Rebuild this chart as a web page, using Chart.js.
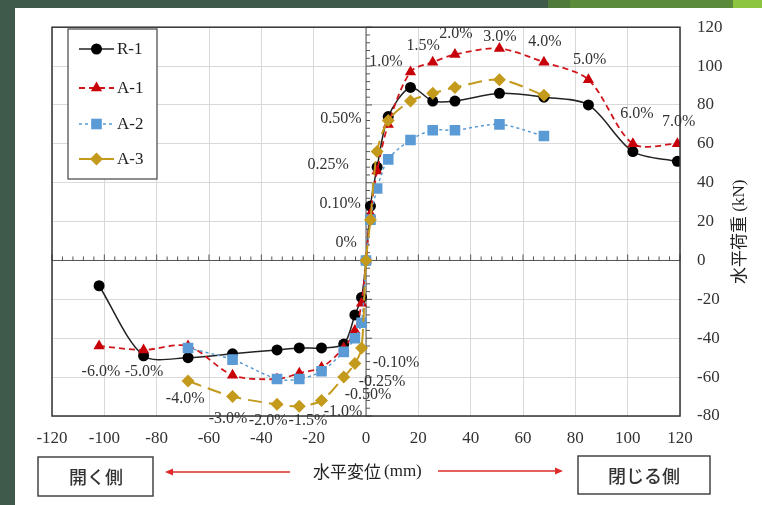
<!DOCTYPE html>
<html>
<head>
<meta charset="utf-8">
<script src="https://cdn.jsdelivr.net/npm/chart.js@4.4.0/dist/chart.umd.min.js"></script>
<style>
html, body { margin: 0; padding: 0; background: #3f5a4a; }
canvas { display: block; }
</style>
</head>
<body>
<canvas id="canvas" width="762" height="505"></canvas>
<script>
// displacement (mm) and horizontal load (kN) per specimen
var r1X = [-102, -85, -68, -51, -34, -25.5, -17, -8.5, -4.25, -1.7, 0, 1.7, 4.25, 8.5, 17, 25.5, 34, 51, 68, 85, 102, 119];
var r1Y = [-13, -49, -50, -48, -46, -45, -45, -43, -28, -19, 0, 28, 48, 74, 89, 82, 82, 86, 84, 80, 56, 51];

var a1X = [-102, -85, -68, -51, -34, -25.5, -17, -8.5, -4.25, -1.7, 0, 1.7, 4.25, 8.5, 17, 25.5, 34, 51, 68, 85, 102, 119];
var a1Y = [-44, -46, -44, -59, -61, -58, -55, -45, -36, -22, 0, 24, 46, 70, 97, 102, 106, 109, 102, 93, 60, 60];

var a2X = [-68, -51, -34, -25.5, -17, -8.5, -4.25, -1.7, 0, 1.7, 4.25, 8.5, 17, 25.5, 34, 51, 68];
var a2Y = [-45, -51, -61, -61, -57, -47, -40, -32, 0, 21, 37, 52, 62, 67, 67, 70, 64];

var a3X = [-68, -51, -34, -25.5, -17, -8.5, -4.25, -1.7, 0, 1.7, 4.25, 8.5, 17, 25.5, 34, 51, 68];
var a3Y = [-62, -70, -74, -75, -72, -60, -53, -45, 0, 21, 56, 72, 82, 86, 89, 93, 85];

// drift angle notes: text, displacement, load
var driftText = ["0.50%", "0.25%", "0.10%", "0%", "1.0%", "1.5%", "2.0%", "3.0%", "4.0%", "5.0%", "6.0%", "7.0%",
  "-6.0%", "-5.0%", "-4.0%", "-3.0%", "-2.0%", "-1.5%", "-1.0%", "-0.50%", "-0.25%", "-0.10%"];
var driftX = [-9.6, -14.5, -9.9, -7.6, 7.6, 21.8, 34.4, 51.2, 68.4, 85.5, 103.5, 119.5,
  -101.3, -84.8, -69.1, -52.7, -37.4, -22.2, -8.8, 0.8, 6.1, 11.5];
var driftY = [72.7, 49.1, 29.1, 9, 102.3, 110.5, 116.5, 115.3, 112.3, 103.3, 75.7, 71.2,
  -57.4, -57.4, -71.4, -81.5, -82.5, -82.5, -78, -69.2, -62.2, -52.6];

var xTicks = [-120, -100, -80, -60, -40, -20, 0, 20, 40, 60, 80, 100, 120];
var yTicks = [-80, -60, -40, -20, 0, 20, 40, 60, 80, 100, 120];

var serif = "'Liberation Serif', 'DejaVu Serif', serif";
var jp = "'Noto Sans CJK JP', sans-serif";

function pts(xs, ys) {
    return xs.map(function (x, i) { return { x: x, y: ys[i] }; });
}

function marker(ctx, style, x, y, r, color) {
    ctx.save();
    ctx.fillStyle = color;
    ctx.setLineDash([]);
    ctx.beginPath();
    if (style == 'circle') {
        ctx.arc(x, y, r, 0, Math.PI * 2);
    } else if (style == 'triangle') {
        ctx.moveTo(x, y - r);
        ctx.lineTo(x + r * 0.866, y + r * 0.5);
        ctx.lineTo(x - r * 0.866, y + r * 0.5);
        ctx.closePath();
    } else if (style == 'rect') {
        var s = r * Math.SQRT1_2;
        ctx.rect(x - s, y - s, 2 * s, 2 * s);
    } else {
        ctx.moveTo(x, y - r);
        ctx.lineTo(x + r, y);
        ctx.lineTo(x, y + r);
        ctx.lineTo(x - r, y);
        ctx.closePath();
    }
    ctx.fill();
    ctx.restore();
}

var decor = {
    id: 'decor',
    beforeDraw: function (chart) {
        var ctx = chart.ctx;
        ctx.save();
        ctx.fillStyle = '#3f5a4a';
        ctx.fillRect(0, 0, 762, 505);
        ctx.fillStyle = '#4f7a3c';
        ctx.fillRect(548, 0, 22, 8);
        ctx.fillStyle = '#5b8a3a';
        ctx.fillRect(570, 0, 163, 8);
        ctx.fillStyle = '#8cc540';
        ctx.fillRect(733, 0, 29, 8);
        ctx.fillStyle = '#ffffff';
        ctx.fillRect(15, 8, 747, 497);
        ctx.restore();
    },
    beforeDatasetsDraw: function (chart) {
        var ctx = chart.ctx, xs = chart.scales.x, ys = chart.scales.y;
        var x0 = xs.getPixelForValue(0), y0 = ys.getPixelForValue(0);
        ctx.save();
        ctx.strokeStyle = '#555';
        ctx.lineWidth = 1;
        ctx.beginPath();
        ctx.moveTo(xs.left, y0); ctx.lineTo(xs.right, y0);
        ctx.moveTo(x0, ys.top); ctx.lineTo(x0, ys.bottom);
        for (var v = -120; v <= 120; v += 4) {
            var px = xs.getPixelForValue(v);
            ctx.moveTo(px, y0); ctx.lineTo(px, y0 - (v % 20 == 0 ? 6 : 4));
        }
        for (var w = -80; w <= 120; w += 4) {
            var py = ys.getPixelForValue(w);
            ctx.moveTo(x0, py); ctx.lineTo(x0 + (w % 20 == 0 ? 6 : 4), py);
        }
        ctx.stroke();
        ctx.restore();
    },
    afterDraw: function (chart) {
        var ctx = chart.ctx, xs = chart.scales.x, ys = chart.scales.y, a = chart.chartArea;
        ctx.save();
        // plot frame
        ctx.strokeStyle = '#333';
        ctx.lineWidth = 1.5;
        ctx.strokeRect(a.left, a.top, a.right - a.left, a.bottom - a.top);

        // legend
        ctx.fillStyle = '#fff';
        ctx.fillRect(68, 29, 89, 150);
        ctx.strokeStyle = '#444';
        ctx.lineWidth = 1.2;
        ctx.strokeRect(68, 29, 89, 150);
        var rows = [49, 88, 124, 159];
        chart.data.datasets.forEach(function (ds, i) {
            var y = rows[i];
            ctx.strokeStyle = ds.borderColor;
            ctx.lineWidth = ds.borderWidth;
            ctx.setLineDash(ds.borderDash || []);
            ctx.beginPath();
            ctx.moveTo(79, y); ctx.lineTo(114, y);
            ctx.stroke();
            ctx.setLineDash([]);
            marker(ctx, ds.pointStyle, 96.5, y, ds.pointRadius, ds.pointBackgroundColor);
            ctx.fillStyle = '#222';
            ctx.font = '17px ' + serif;
            ctx.textAlign = 'left';
            ctx.textBaseline = 'middle';
            ctx.fillText(ds.label, 117, y + 1);
        });

        // drift angle notes
        ctx.fillStyle = '#333';
        ctx.font = '16px ' + serif;
        ctx.textAlign = 'center';
        ctx.textBaseline = 'middle';
        driftText.forEach(function (t, i) {
            ctx.fillText(t, xs.getPixelForValue(driftX[i]), ys.getPixelForValue(driftY[i]));
        });

        // right axis title
        ctx.save();
        ctx.translate(739, 224);
        ctx.rotate(-Math.PI / 2);
        ctx.fillStyle = '#222';
        ctx.textAlign = 'right';
        ctx.font = '17px ' + jp;
        ctx.fillText('水平荷重', 8, 0);
        ctx.textAlign = 'left';
        ctx.font = '17px ' + serif;
        ctx.fillText(' (kN)', 8, 1);
        ctx.restore();

        // x axis title
        ctx.fillStyle = '#222';
        ctx.textAlign = 'right';
        ctx.font = '17px ' + jp;
        ctx.fillText('水平変位', 381, 472);
        ctx.textAlign = 'left';
        ctx.font = '17px ' + serif;
        ctx.fillText('(mm)', 384, 472);

        // arrows
        ctx.strokeStyle = '#e02b2b';
        ctx.fillStyle = '#e02b2b';
        ctx.lineWidth = 1.5;
        ctx.beginPath();
        ctx.moveTo(290, 472); ctx.lineTo(170, 472);
        ctx.moveTo(438, 471); ctx.lineTo(557, 471);
        ctx.stroke();
        ctx.beginPath();
        ctx.moveTo(165, 472); ctx.lineTo(173, 468.5); ctx.lineTo(173, 475.5); ctx.closePath();
        ctx.moveTo(563, 471); ctx.lineTo(555, 467.5); ctx.lineTo(555, 474.5); ctx.closePath();
        ctx.fill();

        // side boxes
        ctx.strokeStyle = '#444';
        ctx.lineWidth = 1.5;
        ctx.strokeRect(38, 457, 115, 39);
        ctx.strokeRect(578, 456, 132, 38);
        ctx.fillStyle = '#333';
        ctx.textAlign = 'center';
        ctx.font = '500 18px ' + jp;
        ctx.fillText('開く側', 96, 477);
        ctx.fillText('閉じる側', 644, 476);
        ctx.restore();
    }
};

var config = {
    type: 'scatter',
    data: {
        datasets: [
            {
                label: 'R-1', data: pts(r1X, r1Y), showLine: true, tension: 0.3, order: 4,
                borderColor: '#222', borderWidth: 1.5, pointStyle: 'circle', pointRadius: 5.5,
                pointBackgroundColor: '#000', pointBorderWidth: 0
            },
            {
                label: 'A-1', data: pts(a1X, a1Y), showLine: true, tension: 0.3, order: 3,
                borderColor: '#d0161b', borderWidth: 1.8, borderDash: [6, 4], pointStyle: 'triangle',
                pointRadius: 6.5, pointBackgroundColor: '#c8000a', pointBorderWidth: 0
            },
            {
                label: 'A-2', data: pts(a2X, a2Y), showLine: true, tension: 0.3, order: 2,
                borderColor: '#5b9bd5', borderWidth: 1.5, borderDash: [3, 3], pointStyle: 'rect',
                pointRadius: 7.5, pointBackgroundColor: '#5b9bd5', pointBorderWidth: 0
            },
            {
                label: 'A-3', data: pts(a3X, a3Y), showLine: true, tension: 0.3, order: 1,
                borderColor: '#c49a1c', borderWidth: 2, borderDash: [14, 7], pointStyle: 'rectRot',
                pointRadius: 6.5, pointBackgroundColor: '#c49a1c', pointBorderWidth: 0
            }
        ]
    },
    options: {
        responsive: false,
        animation: false,
        layout: { padding: { left: 52, top: 17, right: 0, bottom: 0 } },
        plugins: { legend: { display: false }, tooltip: { enabled: false } },
        scales: {
            x: {
                type: 'linear', min: -120, max: 120,
                afterBuildTicks: function (s) { s.ticks = xTicks.map(function (v) { return { value: v }; }); },
                afterFit: function (s) { s.height = 89; },
                ticks: { color: '#333', font: { family: serif, size: 17 }, padding: 12, maxRotation: 0 },
                grid: { color: '#d9d9d9', lineWidth: 1, drawTicks: false },
                border: { display: false }
            },
            y: {
                type: 'linear', position: 'right', min: -80, max: 120,
                afterBuildTicks: function (s) { s.ticks = yTicks.map(function (v) { return { value: v }; }); },
                afterFit: function (s) { s.width = 82; },
                ticks: { color: '#333', font: { family: serif, size: 17 }, padding: 17 },
                grid: { color: '#d9d9d9', lineWidth: 1, drawTicks: false },
                border: { display: false }
            }
        }
    },
    plugins: [decor]
};

window.onload = function () {
    var ctx = document.getElementById('canvas').getContext('2d');
    window.myLine = new Chart(ctx, config);
};
</script>
</body>
</html>
